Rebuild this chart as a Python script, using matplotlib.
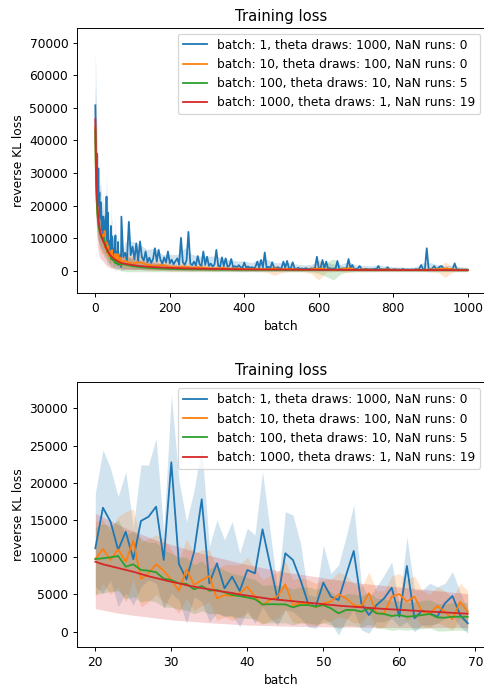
import matplotlib
matplotlib.use("Agg")
import matplotlib.pyplot as plt

plt.rcParams['font.family'] = ['DejaVu Sans']
plt.rcParams['font.size'] = 10.25

labels = ["batch: 1, theta draws: 1000, NaN runs: 0",
          "batch: 10, theta draws: 100, NaN runs: 0",
          "batch: 100, theta draws: 10, NaN runs: 5",
          "batch: 1000, theta draws: 1, NaN runs: 19"]
colors = ["#1f77b4", "#ff7f0e", "#2ca02c", "#d62728"]

# ---------------- batches 0..19 (early) ----------------
early_x = list(range(0, 20))
blue_early = [50800, 42000, 33000, 29000, 36000, 27000, 24000, 26000, 31400, 22000,
              20000, 24000, 17000, 19000, 16000, 21000, 18000, 14000, 12500, 15500]
blue_early_hi = [68000, 62000, 55000, 48000, 45000, 40000, 36000, 35000, 38000, 32000,
                 30000, 31000, 27000, 26000, 25000, 27000, 25000, 22000, 20000, 21000]
blue_early_lo = [33000, 22000, 16000, 13000, 12000, 10000, 9000, 9000, 10000, 8000,
                 7500, 8000, 6500, 7000, 6000, 7000, 6500, 5500, 5500, 6000]
orange_early = [44000, 34000, 28000, 24000, 21000, 19000, 17500, 16000, 15500, 14000,
                13500, 13000, 12500, 12000, 11500, 11500, 11000, 10500, 10500, 10000]
orange_early_hi = [58000, 46000, 38000, 32000, 28000, 25000, 23000, 21000, 20000, 18500,
                   18000, 17500, 17000, 16500, 16000, 16000, 15500, 15000, 15000, 15000]
orange_early_lo = [30000, 22000, 18000, 15000, 13000, 12000, 11000, 10000, 9500, 8500,
                   8000, 7500, 7000, 6500, 6000, 6000, 5500, 5000, 5000, 5000]
green_early = [43000, 33000, 27000, 23000, 20500, 18500, 17000, 15500, 14500, 13500,
               13000, 12300, 11800, 11300, 11000, 10700, 10400, 10200, 10000, 9900]
green_early_hi = [56000, 45000, 37000, 31000, 27500, 24500, 22500, 20500, 19000, 18000,
                  17000, 16200, 15600, 15000, 14600, 14200, 13800, 13500, 13200, 13000]
green_early_lo = [30000, 21000, 17000, 15000, 13500, 12500, 11500, 10500, 10000, 9000,
                  9000, 8400, 8000, 7600, 7400, 7200, 7000, 6900, 6800, 6800]
red_early = [46500, 38000, 32000, 27500, 24000, 21500, 19500, 17800, 16400, 15200,
             14200, 13400, 12700, 12100, 11600, 11100, 10700, 10300, 10000, 9700]
red_early_hi = [58000, 50000, 43000, 38000, 34000, 31000, 28500, 26500, 24500, 23000,
                21500, 20500, 19500, 18700, 18000, 17400, 16900, 16500, 16200, 16000]
red_early_lo = [32000, 24000, 18000, 14000, 11000, 9000, 7500, 6500, 5800, 5200,
                4800, 4400, 4100, 3900, 3700, 3500, 3400, 3300, 3200, 3100]

# ---------------- batches 20..69 (zoomed panel) ----------------
zoom_x = list(range(20, 70))
blue_zoom = [11200, 16650, 14770, 10970, 13430, 9720, 14870, 15440, 16790, 9630,
             22750, 9090, 7030, 10750, 17780, 6500, 9180, 5830, 7390, 5470,
             8290, 7840, 13750, 9000, 4260, 10530, 9630, 6940, 3810, 3360,
             6580, 4700, 4260, 7610, 10840, 3810, 2240, 3580, 4480, 5910,
             2010, 8820, 1800, 2820, 2470, 2010, 3810, 4800, 2240, 1130]
blue_zoom_hi = [18590, 24400, 21940, 18130, 21490, 14100, 22390, 22390, 25970, 13430,
                31870, 20370, 14770, 19030, 25070, 11420, 15000, 12320, 14770, 10530,
                13890, 12990, 21500, 13500, 5600, 16120, 15670, 11870, 5000, 4700,
                11640, 7840, 8960, 12760, 17010, 6500, 4500, 6040, 7610, 9400,
                3400, 12760, 5600, 5600, 6500, 6040, 6500, 8060, 5370, 2910]
blue_zoom_lo = [6040, 5160, 6940, 3360, 5160, 3590, 6040, 6940, 6500, 3140,
                5160, 4260, 1130, 4700, 4030, 1340, 2470, 2010, 2240, 670,
                2910, 1130, 3360, 1800, 900, 2910, 2690, 1800, 670, 450,
                1800, 1130, -440, 1570, 2910, 230, -220, 1340, 1340, 1800,
                670, 1340, 0, 900, 900, 1130, 1800, 2240, 670, -220]
orange_zoom = [9760, 11110, 9630, 11070, 9400, 12220, 7080, 7840, 9050, 8190,
               6940, 5510, 8380, 6270, 6940, 7480, 4490, 4930, 4790, 5160,
               6040, 4700, 3580, 4260, 4800, 6360, 3580, 3810, 3810, 3270,
               3810, 4030, 5020, 4480, 3580, 3360, 5160, 2470, 2470, 4700,
               5060, 4030, 4700, 2690, 2470, 3450, 2690, 1670, 4030, 2690]
orange_zoom_hi = [14800, 15000, 13500, 15500, 16100, 16500, 12000, 12500, 13000, 12500,
                  11000, 9500, 12500, 10500, 11000, 11000, 8500, 9000, 9000, 9000,
                  10000, 8500, 7000, 7500, 8000, 9500, 7000, 7200, 7000, 6500,
                  7000, 7000, 8000, 7500, 6500, 6000, 8000, 5500, 5500, 7500,
                  7800, 7000, 7500, 5500, 5000, 6000, 5500, 4500, 6500, 5500]
orange_zoom_lo = [4700, 6500, 5000, 6000, 4000, 7000, 3300, 4000, 5000, 4000,
                  3500, 2500, 4500, 2800, 3500, 4000, 1500, 2000, 1500, 2000,
                  2500, 1500, 1000, 1500, 1800, 3000, 1200, 1200, 1000, 800,
                  1200, 1500, 2000, 1800, 1200, 1200, 2500, 500, 600, 2000,
                  2500, 1500, 2000, 800, 600, 1200, 800, 200, 1800, 1000]
green_zoom = [9760, 9860, 9990, 10170, 8730, 9050, 8290, 8190, 7980, 7120,
              6940, 6500, 6410, 5690, 6140, 5510, 5600, 5290, 4930, 4790,
              4600, 4380, 3650, 3700, 3670, 3670, 3270, 3580, 3580, 3360,
              3580, 3140, 2470, 2920, 2920, 2690, 3140, 2470, 2380, 2110,
              2240, 2010, 2110, 2240, 2380, 1920, 1880, 2010, 2010, 2010]
green_zoom_hi = [14000, 14500, 14200, 15000, 13000, 13500, 12500, 12000, 12000, 11000,
                 10500, 10000, 10000, 9000, 9500, 8500, 8800, 8300, 7800, 7600,
                 7300, 7000, 6200, 6300, 6200, 6200, 5700, 6000, 6000, 5700,
                 6000, 5400, 4600, 5100, 5100, 4800, 5300, 4500, 4400, 4100,
                 4200, 3900, 4000, 4200, 4300, 3800, 3700, 3900, 3900, 3900]
green_zoom_lo = [5000, 5200, 5400, 5500, 4400, 4700, 4000, 4200, 4000, 3300,
                 3300, 3000, 2900, 2400, 2800, 2400, 2500, 2200, 2000, 1900,
                 1800, 1700, 1100, 1200, 1200, 1200, 900, 1200, 1200, 1000,
                 1200, 900, 400, 800, 800, 600, 1000, 500, 400, 200,
                 300, 200, 300, 400, 500, 100, 100, 200, 200, 200]
red_zoom = [9400, 9050, 8800, 8550, 8300, 8050, 7750, 7450, 7200, 6950,
            6700, 6500, 6250, 6050, 5850, 5700, 5500, 5350, 5200, 5000,
            4850, 4700, 4550, 4400, 4300, 4200, 4100, 4000, 3900, 3800,
            3700, 3600, 3500, 3420, 3350, 3280, 3200, 3130, 3060, 3000,
            2940, 2880, 2820, 2760, 2700, 2650, 2590, 2530, 2470, 2420]
red_zoom_hi = [15900, 15400, 14900, 14400, 13900, 13500, 13100, 12700, 12300, 12000,
               11700, 11400, 11100, 10800, 10500, 10250, 10000, 9750, 9500, 9250,
               9000, 8800, 8600, 8400, 8200, 8000, 7850, 7700, 7550, 7400,
               7250, 7100, 6950, 6800, 6650, 6500, 6400, 6300, 6200, 6100,
               6000, 5900, 5800, 5700, 5600, 5500, 5400, 5300, 5200, 5100]
red_zoom_lo = [3100, 2900, 2700, 2500, 2350, 2200, 2080, 1960, 1840, 1720,
               1600, 1520, 1440, 1360, 1280, 1200, 1140, 1080, 1020, 960,
               900, 870, 840, 810, 780, 750, 730, 710, 690, 670,
               650, 640, 630, 620, 610, 600, 590, 580, 580, 570,
               570, 560, 560, 560, 560, 560, 560, 560, 560, 560]

# ---------------- batches 70..1000 (late) ----------------
blue_late_x = list(range(70, 1001, 5))
blue_late = [16600, 4200, 5500, 3200, 15000, 4800, 7400, 3500, 8400, 3000,
             9000, 4200, 3100, 5900, 2600, 4000, 2400, 3600, 6900, 2800,
             6400, 3300, 2200, 4100, 2500, 5900, 2300, 3400, 2000, 2900,
             3800, 1900, 10100, 2600, 1800, 3200, 11900, 2200, 1700, 2800,
             1600, 4500, 2000, 1500, 5900, 1800, 4300, 1500, 2200, 1300,
             1900, 6400, 1500, 1200, 4100, 1400, 3800, 1200, 1500, 3600,
             1100, 1400, 1000, 1700, 1100, 900, 2500, 1000, 1300, 900,
             1100, 800, 1200, 2800, 900, 3300, 1000, 5600, 900, 1200,
             800, 2600, 900, 700, 1100, 700, 800, 2800, 900, 3000,
             700, 800, 2600, 700, 600, 900, 600, 700, 500, 800,
             600, 500, 700, 600, 900, 4300, 800, 900, 3300, 700,
             2800, 600, 800, 500, 700, 600, 3000, 600, 500, 700,
             600, 900, 3600, 800, 1750, 600, 500, 700, 1450, 500,
             400, 600, 500, 400, 500, 400, 600, 500, 1450, 400,
             500, 400, 500, 1050, 400, 300, 400, 500, 300, 400,
             300, 500, 400, 300, 400, 300, 400, 300, 500, 400,
             600, 1750, 500, 400, 6900, 600, 500, 700, 1450, 600,
             700, 1250, 1450, 600, 500, 700, 400, 500, 600, 2250,
             500, 400, 300, 400, 300, 400, 300]
late_x = list(range(80, 1001, 20))
blue_late_hi = [9000, 9000, 8000, 6500, 7000, 5000, 5000, 5000, 7000, 5000,
                4500, 4500, 4500, 4000, 3500, 3000, 3000, 2500, 3500, 3500,
                2500, 2500, 2500, 2000, 1800, 2000, 3000, 2500, 2000, 2000,
                2800, 1800, 1600, 1500, 1800, 1500, 1200, 1200, 1000, 1200,
                2500, 2500, 1800, 1500, 1800, 1200, 1000]
blue_late_lo = [500, 400, 400, 300, 300, 200, 100, 100, 0, 0,
                0, 0, -100, -100, -100, -200, -200, -200, -200, -200,
                -200, -200, -200, -200, -200, -200, -300, -200, -200, -200,
                -200, -200, -200, -200, -200, -200, -200, -200, -200, -200,
                -200, -300, -200, -200, -200, -200, -200]
orange_late = [3000, 2200, 2600, 1800, 1500, 1800, 1200, 1000, 1300, 900,
               1100, 800, 700, 900, 600, 700, 500, 600, 500, 400,
               700, 400, 500, 400, 300, 400, 700, 400, 300, 400,
               800, 300, 400, 300, 300, 400, 300, 300, 200, 300,
               300, 400, 500, 700, 400, 300, 300]
orange_late_hi = [6000, 4500, 5000, 3800, 3200, 3500, 2600, 2200, 2600, 2000,
                  2200, 1800, 1600, 1800, 1400, 1500, 1200, 1300, 1200, 1100,
                  1800, 1200, 1200, 1000, 900, 1500, 3500, 1200, 900, 1000,
                  1800, 900, 1000, 800, 800, 900, 800, 700, 600, 700,
                  700, 900, 1200, 2700, 1000, 800, 700]
orange_late_lo = [500, 300, 400, 100, 0, 100, -100, -200, -100, -200,
                  -100, -200, -200, -100, -200, -200, -300, -200, -300, -400,
                  -1500, -600, -300, -300, -300, -900, -2870, -500, -300, -300,
                  -500, -300, -300, -300, -200, -200, -200, -200, -200, -200,
                  -200, -300, -500, -2000, -400, -200, -200]
green_late = [1900, 1400, 1100, 900, 750, 650, 580, 520, 470, 430,
              400, 380, 360, 340, 330, 320, 310, 300, 290, 280,
              270, 260, 260, 250, 250, 240, 240, 230, 280, 230,
              220, 220, 210, 210, 200, 200, 200, 190, 190, 190,
              180, 180, 180, 170, 170, 170, 160]
green_late_hi = [4500, 3500, 3000, 2500, 2200, 2000, 1800, 1600, 1500, 1400,
                 1300, 1200, 1100, 1000, 1000, 950, 900, 900, 850, 850,
                 800, 800, 800, 750, 750, 800, 1200, 2500, 3700, 1500,
                 800, 700, 700, 650, 650, 600, 600, 600, 550, 550,
                 550, 550, 550, 500, 500, 500, 500]
green_late_lo = [-300, -300, -300, -300, -300, -300, -300, -300, -300, -300,
                 -300, -300, -300, -300, -300, -300, -300, -300, -300, -300,
                 -300, -300, -300, -300, -300, -400, -800, -1800, -2800, -900,
                 -300, -300, -300, -300, -300, -300, -300, -300, -300, -300,
                 -300, -300, -300, -300, -300, -300, -300]
red_late = [2150, 1750, 1450, 1250, 1100, 980, 880, 800, 730, 670,
            620, 580, 540, 510, 480, 460, 440, 420, 400, 380,
            370, 360, 340, 330, 320, 310, 300, 290, 280, 270,
            260, 250, 240, 240, 230, 230, 220, 220, 210, 210,
            200, 200, 190, 190, 180, 180, 170]
red_late_hi = [4700, 4000, 3400, 3000, 2600, 2300, 2100, 1900, 1700, 1600,
               1500, 1400, 1300, 1250, 1200, 1150, 1100, 1050, 1000, 950,
               900, 880, 850, 820, 800, 780, 760, 740, 720, 700,
               680, 660, 640, 620, 600, 590, 580, 570, 560, 550,
               540, 530, 520, 510, 505, 500, 500]
red_late_lo = [500, 450, 400, 350, 300, 250, 200, 180, 160, 140,
               120, 100, 90, 80, 70, 60, 50, 40, 30, 20,
               10, 0, 0, 0, 0, 0, 0, 0, 0, 0,
               0, 0, 0, 0, 0, 0, 0, 0, 0, 0,
               0, 0, 0, 0, 0, 0, 0]

# ---------------- assemble series ----------------
top_series = [
    (early_x + zoom_x + blue_late_x, blue_early + blue_zoom + blue_late,
     early_x + zoom_x + late_x, blue_early_hi + blue_zoom_hi + blue_late_hi,
     blue_early_lo + blue_zoom_lo + blue_late_lo),
    (early_x + zoom_x + late_x, orange_early + orange_zoom + orange_late,
     early_x + zoom_x + late_x, orange_early_hi + orange_zoom_hi + orange_late_hi,
     orange_early_lo + orange_zoom_lo + orange_late_lo),
    (early_x + zoom_x + late_x, green_early + green_zoom + green_late,
     early_x + zoom_x + late_x, green_early_hi + green_zoom_hi + green_late_hi,
     green_early_lo + green_zoom_lo + green_late_lo),
    (early_x + zoom_x + late_x, red_early + red_zoom + red_late,
     early_x + zoom_x + late_x, red_early_hi + red_zoom_hi + red_late_hi,
     red_early_lo + red_zoom_lo + red_late_lo),
]
bottom_series = [
    (zoom_x, blue_zoom, zoom_x, blue_zoom_hi, blue_zoom_lo),
    (zoom_x, orange_zoom, zoom_x, orange_zoom_hi, orange_zoom_lo),
    (zoom_x, green_zoom, zoom_x, green_zoom_hi, green_zoom_lo),
    (zoom_x, red_zoom, zoom_x, red_zoom_hi, red_zoom_lo),
]

DPI = 86.4
fig = plt.figure(figsize=(484 / DPI, 686 / DPI), dpi=DPI)
ax1 = fig.add_axes([0.1585, 0.5724, 0.8463, 0.3872])
ax2 = fig.add_axes([0.1585, 0.0564, 0.8463, 0.3863])

for ax, series in ((ax1, top_series), (ax2, bottom_series)):
    for (lx, ly, bx, bhi, blo), c, lab in zip(series, colors, labels):
        ax.plot(lx, ly, color=c, lw=1.5, label=lab)
        ax.fill_between(bx, blo, bhi, color=c, alpha=0.2, lw=0)
    ax.set_title("Training loss")
    ax.set_xlabel("batch")
    ax.set_ylabel("reverse KL loss")
    ax.legend(loc="upper right")

ax1.set_xlim(-50, 1050)
ax1.set_ylim(-6938, 74605)
ax2.set_xlim(17.55, 71.45)
ax2.set_ylim(-2095, 33490)

fig.savefig("out.png", dpi=DPI)
